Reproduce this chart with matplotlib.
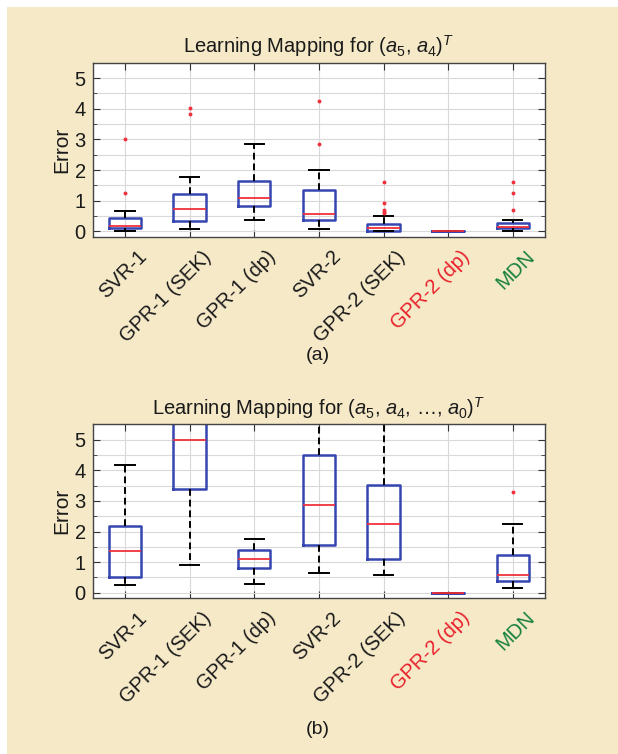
import matplotlib
matplotlib.use("Agg")
import matplotlib.pyplot as plt
import matplotlib.transforms as mtransforms
from matplotlib.ticker import MultipleLocator

plt.rcParams["font.family"] = ["Liberation Sans", "DejaVu Sans"]
plt.rcParams["mathtext.fontset"] = "custom"
plt.rcParams["mathtext.rm"] = "Liberation Sans"
plt.rcParams["mathtext.it"] = "Liberation Sans:italic"

LABELS = ["SVR-1", "GPR-1 (SEK)", "GPR-1 (dp)", "SVR-2", "GPR-2 (SEK)", "GPR-2 (dp)", "MDN"]
LABEL_COLORS = ["#1a1a1a", "#1a1a1a", "#1a1a1a", "#1a1a1a", "#1a1a1a", "#e8202a", "#16803c"]

# panel (a): (a5, a4)^T
A_WHISLO = [0.03, 0.09, 0.37, 0.09, 0.02, 0.0, 0.03]
A_Q1 = [0.10, 0.33, 0.82, 0.38, 0.03, 0.0, 0.12]
A_MED = [0.18, 0.72, 1.08, 0.57, 0.11, 0.0, 0.16]
A_Q3 = [0.43, 1.23, 1.63, 1.36, 0.23, 0.0, 0.28]
A_WHISHI = [0.68, 1.77, 2.86, 2.00, 0.49, 0.0, 0.39]
A_FLIERS = [
    [1.26, 3.02],
    [3.84, 4.01],
    [],
    [2.85, 4.24],
    [0.60, 0.65, 0.71, 0.93, 1.60],
    [],
    [0.70, 1.25, 1.60],
]

# panel (b): (a5, a4, ..., a0)^T
B_WHISLO = [0.25, 0.90, 0.29, 0.66, 0.58, 0.0, 0.16]
B_Q1 = [0.53, 3.40, 0.82, 1.55, 1.11, 0.0, 0.40]
B_MED = [1.35, 5.00, 1.09, 2.86, 2.24, 0.0, 0.58]
B_Q3 = [2.19, 6.20, 1.41, 4.51, 3.53, 0.0, 1.22]
B_WHISHI = [4.16, 9.00, 1.76, 7.00, 6.00, 0.0, 2.24]
B_FLIERS = [[], [], [], [], [], [], [3.28]]

BG = "#f5e9c8"
BOX_BLUE = "#3546b0"
MED_RED = "#f0303a"


def make_stats(whislo, q1, med, q3, whishi, fliers):
    stats = []
    for lo, a, m, b, hi, fl in zip(whislo, q1, med, q3, whishi, fliers):
        stats.append({"whislo": lo, "q1": a, "med": m, "q3": b, "whishi": hi, "fliers": fl})
    return stats


def draw_panel(ax, stats, title):
    ax.bxp(
        stats,
        positions=range(1, len(stats) + 1),
        widths=0.5,
        capwidths=0.3,
        showfliers=True,
        boxprops=dict(color=BOX_BLUE, linewidth=1.8),
        medianprops=dict(color=MED_RED, linewidth=1.3),
        whiskerprops=dict(color="black", linewidth=1.4, linestyle=(0, (3.5, 2))),
        capprops=dict(color="black", linewidth=1.4),
        flierprops=dict(marker="o", markersize=2.8, markerfacecolor=MED_RED,
                        markeredgecolor="none"),
    )
    ax.set_facecolor("white")
    ax.set_xlim(0.5, 7.5)
    ax.set_ylim(-0.18, 5.5)
    ax.yaxis.set_major_locator(MultipleLocator(1))
    ax.yaxis.set_minor_locator(MultipleLocator(0.5))
    ax.grid(which="major", color="#d9d9d9", linewidth=0.8)
    ax.grid(which="minor", axis="y", color="#d9d9d9", linewidth=0.8)
    ax.set_axisbelow(True)
    ax.tick_params(axis="both", which="both", direction="in", right=True, top=True,
                   labelsize=14.5, colors="#333333", labelcolor="#1a1a1a")
    ax.tick_params(axis="both", which="major", length=5)
    ax.tick_params(axis="y", which="minor", length=3)
    ax.tick_params(axis="x", which="minor", length=0)
    ax.tick_params(axis="y", pad=5)
    for sp in ax.spines.values():
        sp.set_color("#444444")
        sp.set_linewidth(1.0)
    ax.set_ylabel("Error", fontsize=15, color="#1a1a1a", labelpad=2)
    ax.set_title(title, fontsize=14.5, color="#1a1a1a", pad=7)

    ax.set_xticks(range(1, len(LABELS) + 1))
    ax.set_xticklabels(LABELS, rotation=45, ha="right", va="center",
                       rotation_mode="anchor", fontsize=14.5)
    # shift the rotated labels so their ends sit right of the ticks, as in the figure
    offset = mtransforms.ScaledTranslation(19 / 100, -12 / 100, ax.figure.dpi_scale_trans)
    for lab, col in zip(ax.get_xticklabels(), LABEL_COLORS):
        lab.set_color(col)
        lab.set_transform(lab.get_transform() + offset)


def main():
    fig = plt.figure(figsize=(6.18, 7.54), dpi=100)
    fig.patch.set_facecolor("white")
    fig.patches.append(plt.Rectangle((7 / 618, 0), 1, 1 - 7 / 754, transform=fig.transFigure,
                                     facecolor=BG, edgecolor="none", zorder=-10))

    ax_a = fig.add_axes([0.150, 0.6857, 0.732, 0.231])
    ax_b = fig.add_axes([0.150, 0.2065, 0.732, 0.2308])

    draw_panel(ax_a, make_stats(A_WHISLO, A_Q1, A_MED, A_Q3, A_WHISHI, A_FLIERS),
               r"Learning Mapping for ($a_5$, $a_4$)$^T$")
    draw_panel(ax_b, make_stats(B_WHISLO, B_Q1, B_MED, B_Q3, B_WHISHI, B_FLIERS),
               r"Learning Mapping for ($a_5$, $a_4$, …, $a_0$)$^T$")

    fig.text(318 / 618, 1 - 355 / 754, "(a)", ha="center", va="center", fontsize=14, color="#1a1a1a")
    fig.text(318 / 618, 1 - 730 / 754, "(b)", ha="center", va="center", fontsize=14, color="#1a1a1a")

    fig.savefig("out.png", dpi=100, facecolor=fig.get_facecolor())
    plt.close(fig)


if __name__ == "__main__":
    main()
